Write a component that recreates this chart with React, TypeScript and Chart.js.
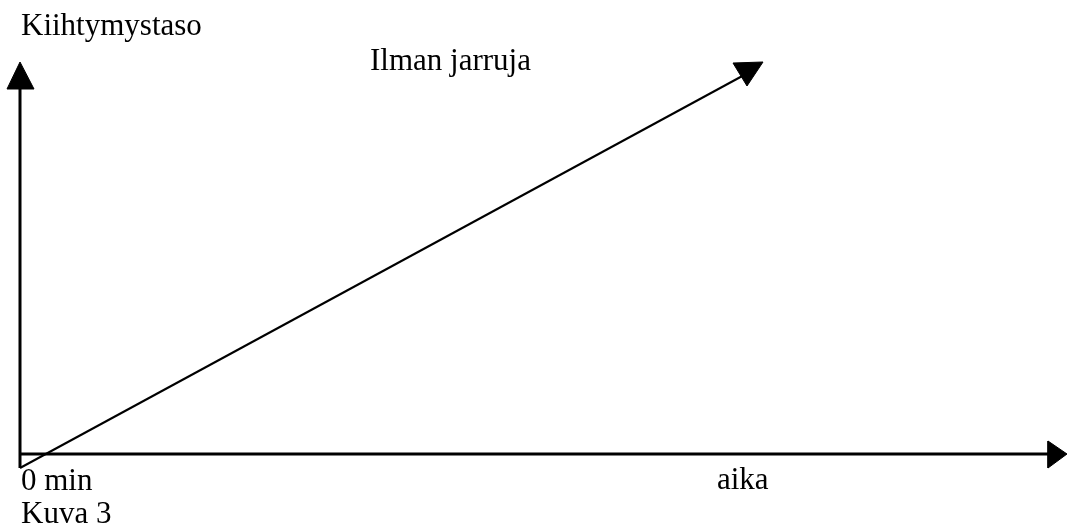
import React, { useEffect, useRef } from "react";
import { Chart, registerables } from "chart.js";

Chart.register(...registerables);

// Axes (origin at 0,0), diagram units
const yAxisLine = [{ x: 0, y: -14 }, { x: 0, y: 366 }];
const yAxisHead = [{ x: -13, y: 365 }, { x: 14, y: 365 }, { x: 0, y: 392 }, { x: -13, y: 365 }];
const xAxisLine = [{ x: 0, y: 0 }, { x: 1029, y: 0 }];
const xAxisHead = [{ x: 1028, y: 13 }, { x: 1028, y: -14 }, { x: 1047, y: 0 }, { x: 1028, y: 13 }];
// Acceleration without brakes
const accelLine = [{ x: 0, y: -14 }, { x: 726, y: 380 }];
const accelHead = [{ x: 713, y: 391 }, { x: 743, y: 392 }, { x: 727, y: 368 }, { x: 713, y: 391 }];

const labelTexts = ["Kiihtymystaso", "Ilman jarruja", "0 min", "aika", "Kuva 3"];
const labelAnchors = [
  { x: 1, y: 419 },
  { x: 350, y: 384 },
  { x: 1, y: -36 },
  { x: 697, y: -35 },
  { x: 1, y: -69 },
];

const textPlugin = {
  id: "diagramText",
  afterDatasetsDraw(chart: any) {
    const { ctx, scales } = chart;
    ctx.save();
    ctx.fillStyle = "#000";
    ctx.font = '31px "Liberation Serif", "Times New Roman", serif';
    ctx.textBaseline = "alphabetic";
    ctx.textAlign = "left";
    labelTexts.forEach((t, i) => {
      const a = labelAnchors[i];
      ctx.fillText(t, scales.x.getPixelForValue(a.x), scales.y.getPixelForValue(a.y));
    });
    ctx.restore();
  },
};

export default function App() {
  const ref = useRef<HTMLCanvasElement | null>(null);
  useEffect(() => {
    if (!ref.current) return;
    const line = (data: any, w: number) => ({
      data,
      showLine: true,
      borderColor: "#000",
      borderWidth: w,
      pointRadius: 0,
      fill: false,
      clip: false as any,
    });
    const head = (data: any) => ({
      data,
      showLine: true,
      borderColor: "#000",
      backgroundColor: "#000",
      borderWidth: 1,
      pointRadius: 0,
      fill: "shape",
      clip: false as any,
    });
    const chart = new Chart(ref.current, {
      type: "scatter",
      data: {
        datasets: [
          line(yAxisLine, 3),
          head(yAxisHead),
          line(xAxisLine, 3),
          head(xAxisHead),
          line(accelLine, 2),
          head(accelHead),
        ] as any,
      },
      options: {
        animation: false,
        responsive: false,
        layout: { padding: 0 },
        plugins: { legend: { display: false }, tooltip: { enabled: false }, title: { display: false } },
        scales: {
          x: { type: "linear", min: -20, max: 1047, display: false },
          y: { type: "linear", min: -72, max: 454, display: false },
        },
      },
      plugins: [textPlugin],
    });
    return () => chart.destroy();
  }, []);
  return (
    <div style={{ position: "fixed", left: 0, top: 0, width: 1067, height: 526, background: "#fff" }}>
      <canvas ref={ref} width={1067} height={526} style={{ display: "block" }} />
    </div>
  );
}
